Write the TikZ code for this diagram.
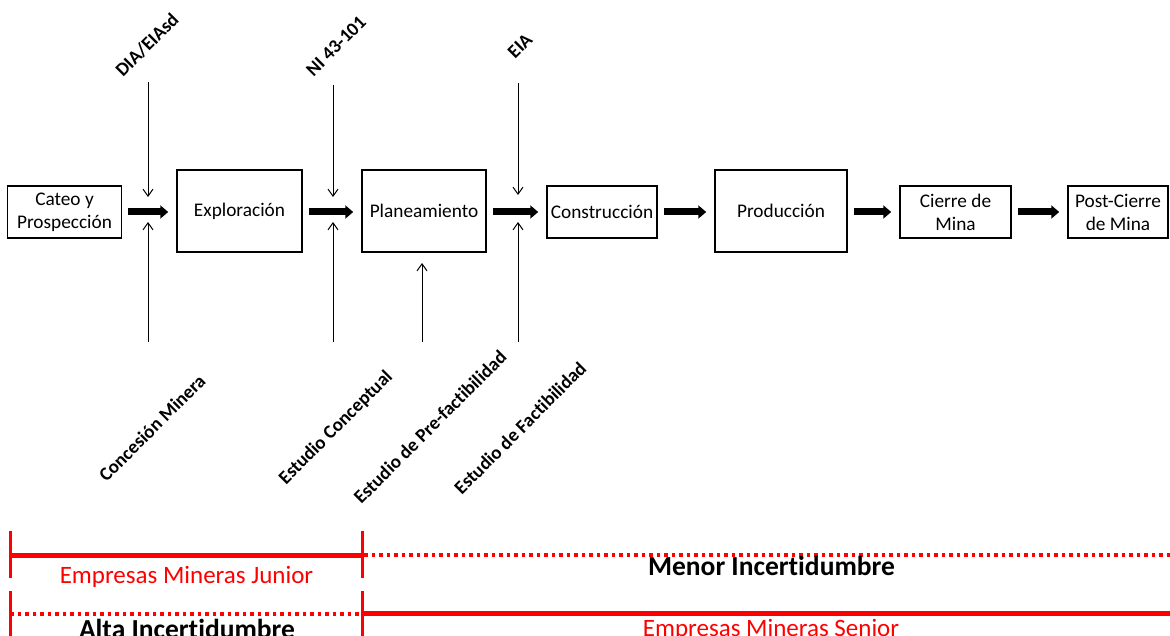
\documentclass[tikz,border=0pt]{standalone}
\usepackage{fontspec}
\setmainfont{Carlito}[RawFeature={-liga}]
\usetikzlibrary{arrows.meta}
\begin{document}
\begin{tikzpicture}[x=1pt,y=-1pt,
  stage/.style={draw,line width=1.5pt,align=center,inner sep=0pt,font=\fontsize{19.3}{23}\selectfont},
  bigarrow/.style={line width=7pt,-{Triangle[length=8pt,width=13pt]},shorten <=6pt,shorten >=8pt},
  thinarrow/.style={line width=1pt,-{Straight Barb[length=7pt,width=10pt]}},
  doclabel/.style={rotate=45,font=\bfseries\fontsize{19}{23}\selectfont,inner sep=0pt},
  redsolid/.style={draw=red,line width=5pt},
  reddots/.style={draw=red,line width=3.5pt,dash pattern=on 3.5pt off 4pt},
  redtick/.style={draw=red,line width=3pt},
  redtext/.style={text=red,font=\fontsize{25}{28}\selectfont,anchor=base,inner sep=0pt},
  blacktext/.style={font=\bfseries\fontsize{27.5}{30}\selectfont,anchor=base,inner sep=0pt}
]
\useasboundingbox (0,0) rectangle (1170,636);

% stages
\node[stage,minimum width=114pt,minimum height=52pt] (cateo) at (64.5,212) {Cateo y\\Prospección};
\node[stage,minimum width=125pt,minimum height=82pt] (expl) at (239.5,211) {Exploración};
\node[stage,minimum width=124pt,minimum height=82pt] (plan) at (424,211) {Planeamiento};
\node[stage,minimum width=110pt,minimum height=52pt] (cons) at (602,212) {Construcción};
\node[stage,minimum width=132pt,minimum height=82pt] (prod) at (781,211) {Producción};
\node[stage,minimum width=111pt,minimum height=52pt] (cierre) at (955.5,212) {Cierre de\\Mina};
\node[stage,minimum width=100pt,minimum height=52pt] (post) at (1118,212) {Post-Cierre\\de Mina};

% main arrows
\draw[bigarrow] (cateo.east |- 0,212) -- (expl.west |- 0,212);
\draw[bigarrow] (expl.east |- 0,212) -- (plan.west |- 0,212);
\draw[bigarrow] (plan.east |- 0,212) -- (cons.west |- 0,212);
\draw[bigarrow] (cons.east |- 0,212) -- (prod.west |- 0,212);
\draw[bigarrow] (prod.east |- 0,212) -- (cierre.west |- 0,212);
\draw[bigarrow] (cierre.east |- 0,212) -- (post.west |- 0,212);

% thin arrows from top
\coordinate (ta1) at (148,82);  \coordinate (tb1) at (148,197);
\coordinate (ta2) at (333,85);  \coordinate (tb2) at (333,197);
\coordinate (ta3) at (518,83);  \coordinate (tb3) at (518,195);
\draw[thinarrow] (ta1) -- (tb1);
\draw[thinarrow] (ta2) -- (tb2);
\draw[thinarrow] (ta3) -- (tb3);

% thin arrows from bottom
\coordinate (ba1) at (148,342); \coordinate (bb1) at (148,222);
\coordinate (ba2) at (333,342); \coordinate (bb2) at (333,222);
\coordinate (ba3) at (422,342); \coordinate (bb3) at (422,263);
\coordinate (ba4) at (518,342); \coordinate (bb4) at (518,222);
\draw[thinarrow] (ba1) -- (bb1);
\draw[thinarrow] (ba2) -- (bb2);
\draw[thinarrow] (ba3) -- (bb3);
\draw[thinarrow] (ba4) -- (bb4);

% rotated labels
\node[doclabel] (dia) at (147,45) {DIA/EIAsd};
\node[doclabel] (ni) at (336,46) {NI 43-101};
\node[doclabel] (eia) at (520,46) {EIA};
\node[doclabel] (conc) at (152,428) {Concesión Minera};
\node[doclabel] (econc) at (336,428) {Estudio Conceptual};
\node[doclabel] (epre) at (430,427) {Estudio de Pre-factibilidad};
\node[doclabel] (efac) at (520,428) {Estudio de Factibilidad};

% bottom bars
\draw[redsolid] (10,555) -- (362,555);
\draw[reddots] (364,555) -- (1172,555);
\draw[redtick] (10,531) -- (10,578);
\draw[redtick] (362,531) -- (362,578);
\draw[reddots] (10,614) -- (360,614);
\draw[redsolid] (362,613) -- (1175,613);
\draw[redtick] (10,591) -- (10,640);
\draw[redtick] (362,591) -- (362,640);

\node[redtext] (junior) at (186.5,583) {Empresas Mineras Junior};
\node[blacktext] (menor) at (771.5,575) {Menor Incertidumbre};
\node[blacktext] (alta) at (187,638) {Alta Incertidumbre};
\node[redtext] (senior) at (771,636) {Empresas Mineras Senior};
\end{tikzpicture}
\end{document}
